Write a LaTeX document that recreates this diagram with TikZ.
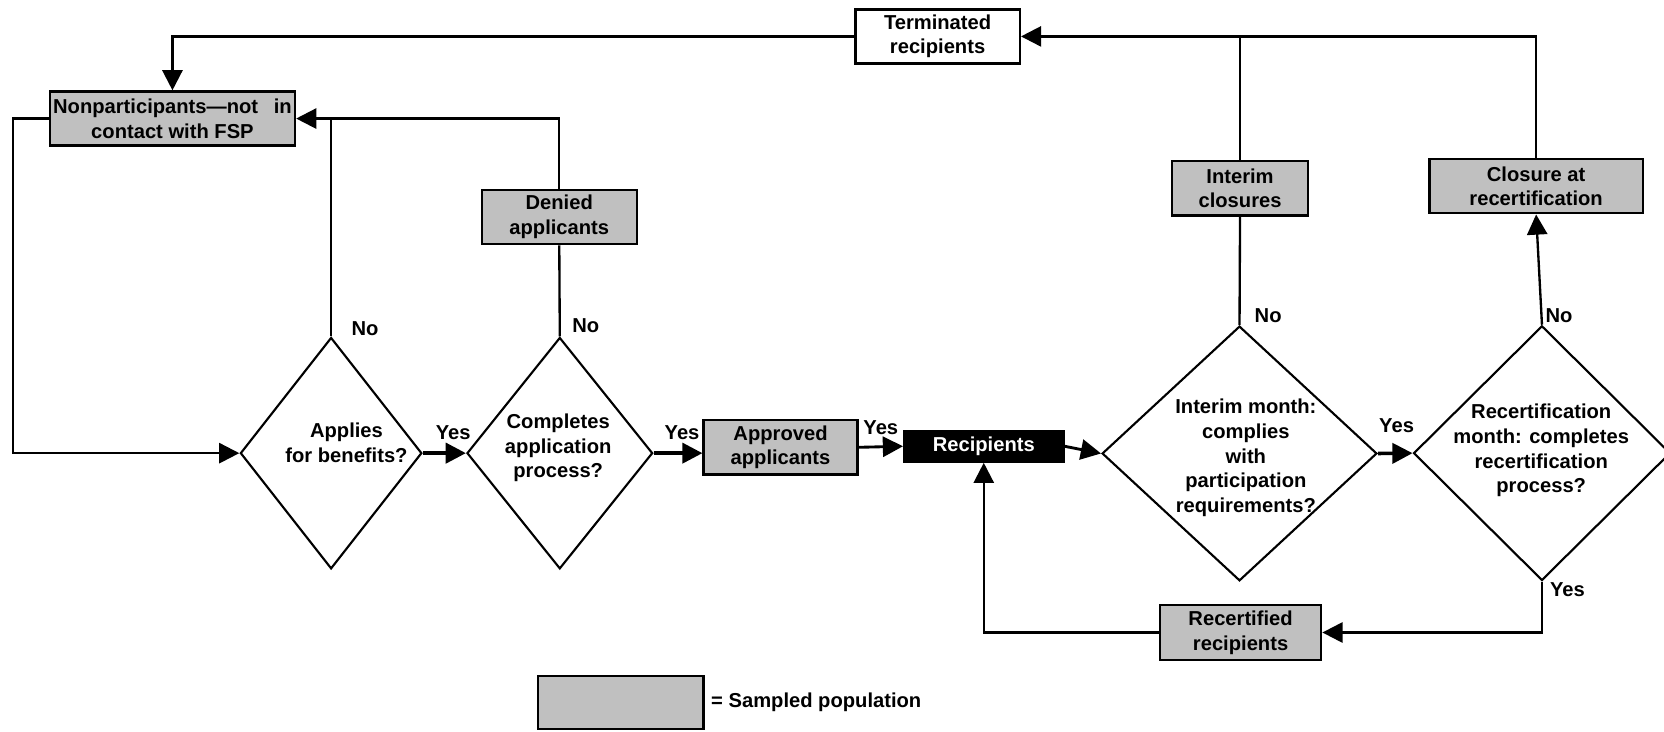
\documentclass[tikz,border=0pt]{standalone}
\usepackage{fontspec}
\setmainfont{Liberation Sans}
\usetikzlibrary{arrows.meta,shapes.geometric}
\definecolor{sgray}{RGB}{192,192,192}
\newcommand\diagfont{\fontsize{19}{23.3}\selectfont\bfseries}
\begin{document}
\begin{tikzpicture}[x=1pt,y=-1pt,
  every node/.style={font=\diagfont},
  box/.style={draw, line width=2.2pt, fill=sgray, rectangle, inner sep=0pt, align=center},
  dia/.style={draw, line width=2pt, diamond, inner sep=0pt},
  txt/.style={align=center, inner sep=0pt},
  lab/.style={inner sep=0pt},
  conn/.style={line width=2.2pt},
  arr/.style={line width=2.2pt, -{Triangle[length=19pt,width=19pt]}},
  tarr/.style={line width=3.4pt, -{Triangle[length=19pt,width=19pt]}},
  marr/.style={line width=2.7pt, -{Triangle[length=19pt,width=19pt]}}
]
\useasboundingbox (0,0) rectangle (1568,689);

% boxes
\node[box, fill=white, minimum width=155pt, minimum height=51pt] (term) at (883.5,34.3) {Terminated\\recipients};
\node[box, minimum width=231pt, minimum height=51pt] (nonp) at (162.5,111.7) {Nonparticipants—not\hspace{0.5em} in\\contact with FSP};
\node[box, minimum width=146pt, minimum height=51pt] (denied) at (527,204.5) {Denied\\applicants};
\node[box, minimum width=145pt, minimum height=51pt] (approved) at (735.5,421.5) {Approved\\applicants};
\node[box, fill=black, text=white, minimum width=150pt, minimum height=29pt] (recip) at (927,420.5) {Recipients};
\node[box, minimum width=128pt, minimum height=51pt] (interim) at (1168.5,177.5) {Interim\\closures};
\node[box, minimum width=201pt, minimum height=51pt] (closure) at (1447.5,175.5) {Closure at\\recertification};
\node[box, minimum width=152pt, minimum height=52pt] (recert) at (1169,596) {Recertified\\recipients};
\node[box, minimum width=156pt, minimum height=50pt] (legend) at (585,662) {};
\node[lab, anchor=west] (legtxt) at (670,662) {= Sampled population};

% diamonds
\node[dia, minimum width=171pt, minimum height=218pt] (d1) at (312,427) {};
\node[dia, minimum width=175pt, minimum height=218pt] (d2) at (527.5,427) {};
\node[dia, minimum width=259pt, minimum height=240pt] (d3) at (1168,427.3) {};
\node[dia, minimum width=242pt, minimum height=240pt] (d4) at (1453,427) {};

\node[txt] (t1) at (326.5,417) {Applies\\for benefits?};
\node[txt] (t2) at (526,422) {Completes\\application\\process?};
\node[txt] (t3) at (1174,431.4) {Interim month:\\complies\\with\\participation\\requirements?};
\node[txt] (t4) at (1452.3,424.5) {Recertification\\month: completes\\recertification\\process?};

% labels
\node[lab] (no1) at (344,309.4) {No};
\node[lab] (no2) at (552,307.2) {No};
\node[lab] (no3) at (1195,297) {No};
\node[lab] (no4) at (1469,297.5) {No};
\node[lab] (yes1) at (427,407.7) {Yes};
\node[lab] (yes2) at (642.7,408) {Yes};
\node[lab] (yes3) at (830,403) {Yes};
\node[lab] (yes4) at (1316,401.5) {Yes};
\node[lab] (yes5) at (1477,556) {Yes};

\coordinate (lc) at (12,427);

% connectors
\draw[arr] (term.west) -| (nonp.north);
\draw[arr] (interim.north) |- (term.east);
\draw[conn] (closure.north) |- (interim.north |- term.east);
\draw[conn] (d3.north) -- (interim.south);
\draw[arr] (d4.north) -- (closure.south);
\draw[arr] (nonp.west) -| (lc) -- (d1.west);
\draw[arr] (denied.north) |- (nonp.east);
\draw[conn] (d1.north) -- (d1.north |- nonp.east);
\draw[conn] (d2.north) -- (denied.south);
\draw[tarr] (d1.east) -- (d2.west);
\draw[tarr] (d2.east) -- (d2.east -| approved.west);
\draw[marr] (approved.east) -- (recip.west);
\draw[marr] (recip.east) -- (d3.west);
\draw[tarr] (d3.east) -- (d4.west);
\draw[arr] (d4.south) |- (recert.east);
\draw[arr] (recert.west) -| (recip.south);
\end{tikzpicture}
\end{document}
